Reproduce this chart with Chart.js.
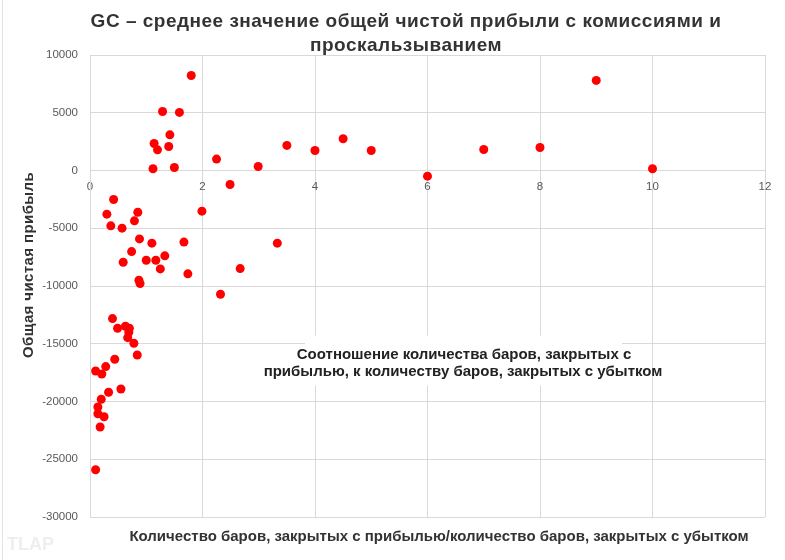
<!DOCTYPE html>
<html>
<head>
<meta charset="utf-8">
<script src="https://cdn.jsdelivr.net/npm/chart.js@4.4.1/dist/chart.umd.min.js"></script>
<style>
  html, body { margin: 0; padding: 0; background: #fff; }
  .chart-box { position: relative; width: 785px; height: 560px; }
</style>
</head>
<body>
<div class="chart-box">
  <canvas id="scatter-chart"></canvas>
</div>
<script>
// Data
const ratioValues = [
  1.80, 1.29, 1.59, 1.42, 1.14, 1.20, 1.40, 1.12, 1.50, 2.25,
  2.49, 2.99, 3.50, 0.42, 0.30, 0.85, 0.37, 0.57, 0.79, 1.99,
  0.88, 1.10, 1.67, 3.33, 0.74, 0.59, 1.00, 1.17, 1.33, 1.25,
  1.74, 2.67, 0.87, 0.89, 2.32, 0.40, 0.49, 0.63, 0.70, 0.69,
  0.67, 0.78, 0.84, 0.44, 0.28, 0.10, 0.21, 0.33, 0.55, 0.20,
  0.14, 0.14, 0.25, 0.18, 0.10, 4.00, 4.50, 5.00, 6.00, 7.00,
  8.00, 9.00, 10.00
]
const profitValues = [
  8230, 5110, 5030, 3090, 2340, 1790, 2080, 150, 260, 990,
  -1210, 350, 2170, -2510, -3780, -3610, -4790, -4990, -4360, -3520,
  -5920, -6290, -6200, -6290, -7020, -7940, -7770, -7770, -7390, -8520,
  -8950, -8490, -9500, -9790, -10710, -12820, -13660, -13480, -13660, -14000,
  -14470, -14960, -15970, -16340, -16980, -17360, -17620, -19200, -18920, -19810,
  -20480, -21060, -21320, -22210, -25910, 1730, 2750, 1730, -490, 1820,
  1990, 7800, 150
]
const titleLines = ['GC – среднее значение общей чистой прибыли с комиссиями и', 'проскальзыванием']
const xAxisTitle = 'Количество баров, закрытых с прибылью/количество баров, закрытых с убытком'
const yAxisTitle = 'Общая чистая прибыль'
const noteLines = ['Соотношение количества баров, закрытых с', 'прибылью, к количеству баров, закрытых с убытком']

const points = ratioValues.map((x, i) => ({ x: x, y: profitValues[i] }))
const fontFamily = '"Liberation Sans", Arial, sans-serif'

// Texts drawn on the canvas: title, axis titles, note box, watermark
const extrasPlugin = {
  id: 'extras',
  beforeDatasetsDraw: (chart) => {
    const ctx = chart.ctx
    const yScale = chart.scales.y
    ctx.save()
    // white box behind the note
    const top = yScale.getPixelForValue(-14300)
    ctx.fillStyle = '#ffffff'
    ctx.fillRect(305, top, 317, 50)
    ctx.fillStyle = '#222222'
    ctx.font = `bold 15px ${fontFamily}`
    ctx.textAlign = 'center'
    ctx.textBaseline = 'middle'
    ctx.fillText(noteLines[0], 464, 355)
    ctx.fillText(noteLines[1], 463, 372)
    ctx.restore()
  },
  afterDraw: (chart) => {
    const ctx = chart.ctx

    // chart title
    ctx.save()
    ctx.fillStyle = '#333333'
    ctx.font = `bold 19px ${fontFamily}`
    ctx.letterSpacing = '0.5px'
    ctx.textAlign = 'center'
    ctx.textBaseline = 'alphabetic'
    ctx.fillText(titleLines[0], 406, 27)
    ctx.fillText(titleLines[1], 406, 51)
    ctx.restore()

    // x axis title
    ctx.save()
    ctx.fillStyle = '#333333'
    ctx.font = `bold 15px ${fontFamily}`
    ctx.textAlign = 'center'
    ctx.textBaseline = 'middle'
    ctx.fillText(xAxisTitle, 439, 537)
    ctx.restore()

    // y axis title
    ctx.save()
    ctx.translate(29, 265)
    ctx.rotate(-Math.PI / 2)
    ctx.fillStyle = '#333333'
    ctx.font = `bold 15px ${fontFamily}`
    ctx.letterSpacing = '0.4px'
    ctx.textAlign = 'center'
    ctx.textBaseline = 'middle'
    ctx.fillText(yAxisTitle, 0, 0)
    ctx.restore()

    ctx.save()
    // watermark
    ctx.fillStyle = '#eeeeee'
    ctx.font = `bold 18px ${fontFamily}`
    ctx.textBaseline = 'middle'
    ctx.fillText('TLAP', 7, 545)
    // left frame line
    ctx.strokeStyle = '#e3e3e3'
    ctx.lineWidth = 1
    ctx.beginPath()
    ctx.moveTo(2.5, 0)
    ctx.lineTo(2.5, 560)
    ctx.stroke()
    ctx.restore()
  }
}

const scatterChart = document.querySelector('#scatter-chart')
if (scatterChart) {
  new Chart(scatterChart, {
    type: 'scatter',
    data: {
      datasets: [
        {
          label: 'GC',
          data: points,
          backgroundColor: '#ff0000',
          borderColor: '#ff0000',
          borderWidth: 0,
          pointRadius: 4.5,
          pointHoverRadius: 4.5
        }
      ]
    },
    options: {
      responsive: true,
      maintainAspectRatio: false,
      animation: false,
      layout: {
        padding: { left: 0, right: 20, top: 55, bottom: 43 }
      },
      plugins: {
        legend: { display: false },
        tooltip: { enabled: false }
      },
      scales: {
        x: {
          type: 'linear',
          position: { y: 0 },
          min: 0,
          max: 12,
          ticks: {
            stepSize: 2,
            color: '#595959',
            font: { family: fontFamily, size: 11.5 },
            padding: 9
          },
          grid: { color: '#d9d9d9', drawTicks: false },
          border: { color: '#d9d9d9' }
        },
        y: {
          min: -30000,
          max: 10000,
          ticks: {
            stepSize: 5000,
            color: '#595959',
            font: { family: fontFamily, size: 11.5 },
            padding: 12,
            callback: (value) => String(value)
          },
          grid: { color: '#d9d9d9', drawTicks: false },
          border: { color: '#d9d9d9' },
          afterFit: (scale) => {
            scale.width = 90
          }
        }
      }
    },
    plugins: [extrasPlugin]
  })
}
</script>
</body>
</html>
